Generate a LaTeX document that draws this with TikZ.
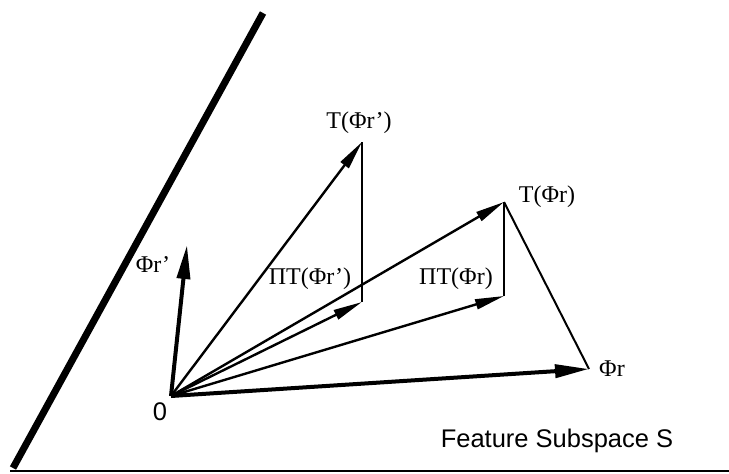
\documentclass[tikz,border=0pt]{standalone}
\usepackage{fontspec}
\setmainfont{Liberation Serif}
\setsansfont{Liberation Sans}
\usetikzlibrary{arrows.meta}
\begin{document}
\begin{tikzpicture}[x=1pt,y=-1pt,
  vec/.style={line width=2.4pt,-{Triangle[length=29pt,width=10pt]}},
  bigvec/.style={line width=4pt,-{Triangle[length=34pt,width=13pt]}},
  proj/.style={line width=2pt},
  lbl/.style={font=\fontsize{24}{27}\selectfont, inner sep=0pt},
  slbl/.style={font=\sffamily\fontsize{25.5}{28}\selectfont, inner sep=0pt}]
\useasboundingbox (0,0) rectangle (729,474);
\fill[white] (0,0) rectangle (729,474);
% frame lines
\coordinate (dtop) at (263,13);
\coordinate (dbot) at (13,468);
\draw[line width=7pt] (dtop) -- (dbot);
\coordinate (bl) at (10,471);
\coordinate (br) at (729,471);
\draw[line width=2pt] (bl) -- (br);
% points
\coordinate (O) at (171,396);
\coordinate (Pr1) at (187,245);
\coordinate (Tr1) at (362,142);
\coordinate (PTr1) at (362,302);
\coordinate (Tr) at (504,202);
\coordinate (PTr) at (504,296);
\coordinate (Pr) at (589,369);
% vectors
\draw[proj] (Tr1) -- (PTr1);
\draw[proj] (Tr) -- (PTr);
\draw[proj] (Tr) -- (Pr);
\draw[vec] (O) -- (Tr1);
\draw[vec] (O) -- (PTr1);
\draw[vec] (O) -- (Tr);
\draw[vec] (O) -- (PTr);
\draw[bigvec] (O) -- (Pr1);
\draw[bigvec] (O) -- (Pr);
% labels
\node[lbl] (lTr1) at (359,123) {T(Φr’)};
\node[lbl] (lPTr1) at (310,279) {ΠT(Φr’)};
\node[lbl] (lTr) at (547,197) {T(Φr)};
\node[lbl] (lPTr) at (456,279) {ΠT(Φr)};
\node[lbl] (lPr) at (612,369) {Φr};
\node[lbl] (lPr1) at (153,265) {Φr’};
\node[slbl] (lO) at (160,412) {0};
\node[slbl,anchor=base] (lS) at (557,447) {Feature Subspace S};
\end{tikzpicture}
\end{document}
